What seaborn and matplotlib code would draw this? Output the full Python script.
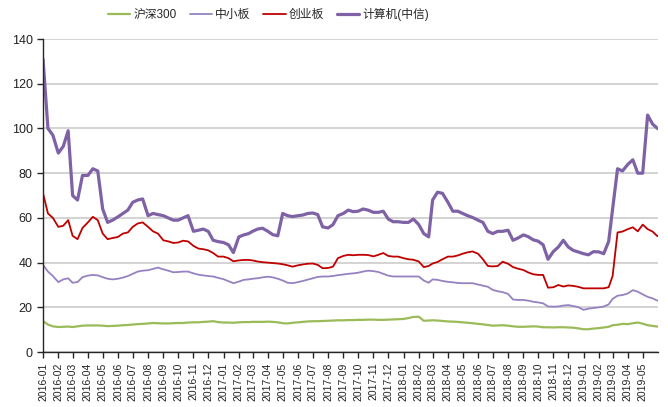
import pandas as pd
import numpy as np
import matplotlib
matplotlib.use('Agg')
import matplotlib.pyplot as plt
import seaborn as sns

# Dates: 1st, 11th, 21st of each month, 2016-01 .. 2019-05, plus month end
dates = [f"{y}-{m:02d}-{d:02d}" for y in range(2016, 2020) for m in range(1, 13)
         for d in (1, 11, 21) if (y, m) <= (2019, 5)] + ["2019-05-31"]

hs300 = [13.8, 12.3, 11.5, 11.2, 11.3, 11.4, 11.2, 11.5, 11.8, 11.9, 11.9, 11.9,
         11.8, 11.6, 11.7, 11.8, 12.0, 12.1, 12.3, 12.5, 12.6, 12.8, 13.0, 12.9,
         12.8, 12.8, 12.9, 13.0, 13.0, 13.2, 13.3, 13.3, 13.5, 13.6, 13.8, 13.4,
         13.2, 13.2, 13.1, 13.3, 13.4, 13.4, 13.5, 13.5, 13.5, 13.6, 13.5, 13.3,
         12.9, 12.8, 13.1, 13.3, 13.5, 13.7, 13.8, 13.8, 13.9, 14.0, 14.1, 14.2,
         14.2, 14.3, 14.3, 14.4, 14.4, 14.5, 14.5, 14.4, 14.4, 14.5, 14.6, 14.7,
         14.8, 15.2, 15.7, 15.8, 14.0, 14.1, 14.2, 14.1, 13.9, 13.7, 13.6, 13.5,
         13.3, 13.1, 12.9, 12.6, 12.4, 12.1, 11.8, 11.9, 12.0, 11.8, 11.5, 11.3,
         11.3, 11.4, 11.5, 11.4, 11.1, 11.1, 11.0, 11.1, 11.1, 11.0, 10.9, 10.6,
         10.2, 10.2, 10.5, 10.7, 11.0, 11.3, 12.0, 12.2, 12.6, 12.5, 12.9, 13.2,
         12.7, 12.0, 11.7, 11.4]

sme = [39, 36, 34, 31.3, 32.5, 33, 31, 31.3, 33.5, 34.2, 34.5, 34.3,
       33.5, 32.8, 32.5, 32.8, 33.3, 34, 35, 36, 36.4, 36.6, 37.2, 37.8,
       37, 36.4, 35.7, 35.8, 36, 36, 35.2, 34.6, 34.3, 34, 33.8, 33.2,
       32.6, 31.7, 30.8, 31.5, 32.3, 32.5, 32.8, 33, 33.4, 33.7, 33.4, 32.8,
       32, 31, 30.8, 31.3, 31.8, 32.4, 33, 33.6, 33.8, 33.8, 34, 34.4,
       34.7, 35, 35.2, 35.5, 36, 36.4, 36.2, 35.8, 35, 34.2, 33.8, 33.8,
       33.8, 33.8, 33.8, 33.8, 32, 31, 32.5, 32.3, 31.8, 31.4, 31.2, 30.9,
       30.8, 30.8, 30.8, 30.2, 29.7, 29.2, 27.8, 27.2, 26.8, 26, 23.5, 23.3,
       23.3, 23, 22.5, 22.2, 21.8, 20.4, 20.3, 20.4, 20.8, 21, 20.6, 20.1,
       18.9, 19.4, 19.7, 20, 20.4, 21.3, 23.8, 25.2, 25.5, 26.2, 27.7, 27,
       25.8, 24.7, 24, 23]

gem = [71, 62, 60, 56, 56.5, 59, 52, 50.5, 55.5, 58, 60.5, 59,
       53, 50.5, 51, 51.5, 53, 53.5, 56, 57.5, 58, 56, 54, 53,
       50, 49.5, 48.8, 49, 49.8, 49.5, 47.5, 46.3, 46, 45.5, 44.3, 42.7,
       42.7, 42, 40.6, 41, 41.2, 41.2, 41, 40.5, 40.2, 40, 39.8, 39.6,
       39.3, 38.8, 38.2, 38.8, 39.2, 39.5, 39.6, 39, 37.5, 37.6, 38.2, 42,
       43, 43.5, 43.3, 43.5, 43.5, 43.4, 42.8, 43.5, 44.3, 43, 42.7, 42.7,
       42, 41.5, 41.3, 40.5, 38, 38.5, 39.6, 40.3, 41.5, 42.7, 42.7, 43.2,
       44, 44.6, 45, 44, 41.5, 38.5, 38.3, 38.5, 40.4, 39.5, 38, 37.3,
       36.7, 35.6, 34.8, 34.5, 34.5, 28.8, 29, 30, 29.3, 29.8, 29.6, 29.2,
       28.5, 28.5, 28.5, 28.5, 28.5, 29, 34, 53.5, 53.9, 55, 55.8, 54,
       57, 55, 53.9, 51.8]

computer = [131, 100, 97, 89, 92, 99, 70, 68, 79, 79, 82, 81,
            64, 58, 59, 60.5, 62, 63.5, 67, 68, 68.5, 61, 62, 61.5,
            61, 60, 59, 59, 60, 61, 54, 54.5, 55, 54, 50, 49.4,
            49, 48, 44.5, 51.5, 52.4, 53, 54, 55, 55.4, 54, 52.5, 52,
            62, 61, 60.6, 61, 61.3, 62, 62.2, 61.5, 56, 55.5, 57, 61,
            62, 63.5, 62.8, 63, 64, 63.5, 62.5, 62.5, 63, 59.5, 58.3, 58.3,
            58, 58, 59.5, 57, 53, 51.5, 68, 71.5, 71, 67, 63, 63,
            62, 61, 60.2, 59, 58, 54, 53, 54, 54, 54.5, 50, 51,
            52.4, 51.6, 50.2, 49.6, 48, 41.5, 45, 47, 50, 47, 45.5, 44.8,
            44, 43.5, 44.9, 44.8, 44, 49.5, 64, 82, 81, 84, 86, 80,
            80, 106, 102, 100]

series_names = ['沪深300', '中小板', '创业板', '计算机(中信)']
series_values = [hs300, sme, gem, computer]
colors = ['#9BBB59', '#9682C0', '#C00000', '#7F62A6']
widths = [1.6, 1.3, 1.3, 2.3]

df = pd.DataFrame({'date': pd.to_datetime(dates)})
for name, vals in zip(series_names, series_values):
    df[name] = vals

sns.set_style('white')
plt.rcParams['font.family'] = ['Liberation Sans', 'Noto Sans CJK SC']

fig = plt.figure(figsize=(6.68, 4.07), dpi=100)
ax = fig.add_axes([0.0644, 0.135, 0.9206, 0.769])

for name, c, lw in zip(series_names, colors, widths):
    sns.lineplot(data=df, x='date', y=name, ax=ax, color=c, linewidth=lw, label=name)

ax.set_ylim(0, 140)
ax.set_yticks(range(0, 141, 20))
ax.set_xlim(pd.Timestamp('2016-01-01'), pd.Timestamp('2019-06-01'))
ticks = pd.date_range('2016-01-01', '2019-05-01', freq='MS')
ax.set_xticks(ticks)
ax.set_xticklabels([t.strftime('%Y-%m') for t in ticks], rotation=90, fontsize=7.5,
                   color='#222222', family=['Liberation Sans Narrow', 'Liberation Sans'])
ax.tick_params(axis='y', labelsize=9, colors='#222222')
ax.tick_params(axis='both', direction='out', length=4, width=1, color='#262626',
               bottom=True, left=True)
ax.set_xlabel('')
ax.set_ylabel('')
ax.yaxis.grid(True, color='#CCCCCC', linewidth=1.2)
ax.set_axisbelow(True)
for s in ['top', 'right']:
    ax.spines[s].set_visible(False)
for s in ['left', 'bottom']:
    ax.spines[s].set_color('#262626')
    ax.spines[s].set_linewidth(1.0)

ax.get_legend().remove()
handles, labels = ax.get_legend_handles_labels()
fig.legend(handles, labels, loc='center', bbox_to_anchor=(0.402, 0.965), ncol=4,
           frameon=False, fontsize=8.5, handlelength=1.9, handletextpad=0.25,
           columnspacing=1.1)

fig.savefig('out.png', dpi=100)
